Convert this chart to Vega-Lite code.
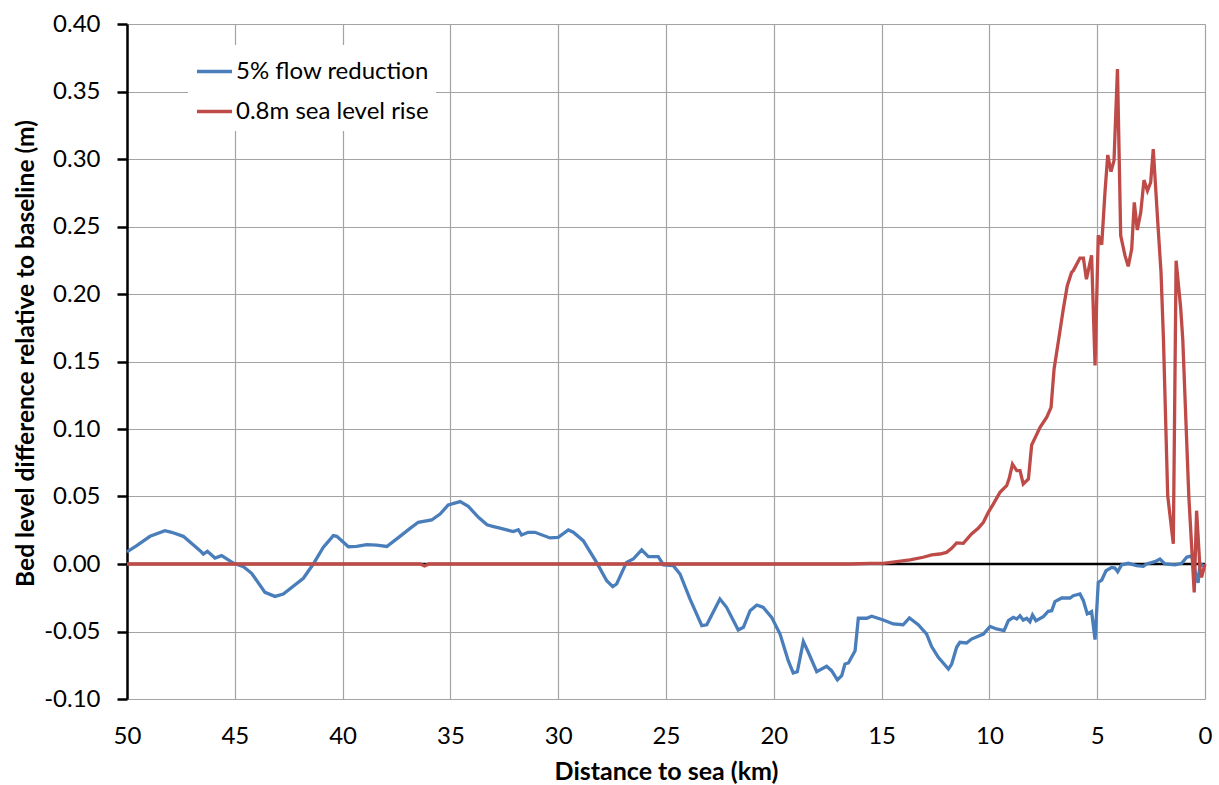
{
  "$schema": "https://vega.github.io/schema/vega-lite/v6.json",
  "width": 1078,
  "height": 675,
  "autosize": {"type": "none"},
  "padding": {"left": 127, "top": 24, "right": 14, "bottom": 86},
  "background": "white",
  "config": {
    "font": "Lato",
    "view": {"stroke": null},
    "axis": {"labelColor": "black", "titleColor": "black", "gridColor": "#a3a3a3", "gridWidth": 1.2}
  },
  "datasets": {
    "lines": [
      {"d": 50.0, "v": 0.009, "s": "5% flow reduction"},
      {"d": 49.55, "v": 0.0136, "s": "5% flow reduction"},
      {"d": 48.93, "v": 0.0205, "s": "5% flow reduction"},
      {"d": 48.24, "v": 0.0247, "s": "5% flow reduction"},
      {"d": 47.93, "v": 0.0235, "s": "5% flow reduction"},
      {"d": 47.39, "v": 0.0205, "s": "5% flow reduction"},
      {"d": 46.61, "v": 0.0099, "s": "5% flow reduction"},
      {"d": 46.46, "v": 0.0074, "s": "5% flow reduction"},
      {"d": 46.27, "v": 0.0094, "s": "5% flow reduction"},
      {"d": 45.92, "v": 0.0044, "s": "5% flow reduction"},
      {"d": 45.61, "v": 0.0062, "s": "5% flow reduction"},
      {"d": 45.07, "v": 0.0007, "s": "5% flow reduction"},
      {"d": 44.6, "v": -0.002, "s": "5% flow reduction"},
      {"d": 44.22, "v": -0.0069, "s": "5% flow reduction"},
      {"d": 43.6, "v": -0.021, "s": "5% flow reduction"},
      {"d": 43.14, "v": -0.024, "s": "5% flow reduction"},
      {"d": 42.75, "v": -0.0222, "s": "5% flow reduction"},
      {"d": 41.82, "v": -0.0106, "s": "5% flow reduction"},
      {"d": 41.36, "v": 0.0, "s": "5% flow reduction"},
      {"d": 40.9, "v": 0.0123, "s": "5% flow reduction"},
      {"d": 40.43, "v": 0.021, "s": "5% flow reduction"},
      {"d": 40.27, "v": 0.0205, "s": "5% flow reduction"},
      {"d": 39.73, "v": 0.0128, "s": "5% flow reduction"},
      {"d": 39.35, "v": 0.013, "s": "5% flow reduction"},
      {"d": 38.88, "v": 0.0143, "s": "5% flow reduction"},
      {"d": 38.42, "v": 0.014, "s": "5% flow reduction"},
      {"d": 37.95, "v": 0.013, "s": "5% flow reduction"},
      {"d": 37.34, "v": 0.0205, "s": "5% flow reduction"},
      {"d": 36.87, "v": 0.0264, "s": "5% flow reduction"},
      {"d": 36.49, "v": 0.0309, "s": "5% flow reduction"},
      {"d": 35.87, "v": 0.0326, "s": "5% flow reduction"},
      {"d": 35.48, "v": 0.037, "s": "5% flow reduction"},
      {"d": 35.1, "v": 0.0437, "s": "5% flow reduction"},
      {"d": 34.55, "v": 0.0462, "s": "5% flow reduction"},
      {"d": 34.17, "v": 0.0427, "s": "5% flow reduction"},
      {"d": 33.7, "v": 0.0346, "s": "5% flow reduction"},
      {"d": 33.3, "v": 0.029, "s": "5% flow reduction"},
      {"d": 33.0, "v": 0.0277, "s": "5% flow reduction"},
      {"d": 32.7, "v": 0.0265, "s": "5% flow reduction"},
      {"d": 32.08, "v": 0.024, "s": "5% flow reduction"},
      {"d": 31.85, "v": 0.0254, "s": "5% flow reduction"},
      {"d": 31.7, "v": 0.0215, "s": "5% flow reduction"},
      {"d": 31.39, "v": 0.0235, "s": "5% flow reduction"},
      {"d": 31.08, "v": 0.0235, "s": "5% flow reduction"},
      {"d": 30.38, "v": 0.0193, "s": "5% flow reduction"},
      {"d": 30.0, "v": 0.0198, "s": "5% flow reduction"},
      {"d": 29.53, "v": 0.0252, "s": "5% flow reduction"},
      {"d": 29.3, "v": 0.0235, "s": "5% flow reduction"},
      {"d": 28.84, "v": 0.0173, "s": "5% flow reduction"},
      {"d": 28.22, "v": 0.0012, "s": "5% flow reduction"},
      {"d": 27.75, "v": -0.0124, "s": "5% flow reduction"},
      {"d": 27.47, "v": -0.0168, "s": "5% flow reduction"},
      {"d": 27.29, "v": -0.0148, "s": "5% flow reduction"},
      {"d": 26.83, "v": 0.0012, "s": "5% flow reduction"},
      {"d": 26.52, "v": 0.0037, "s": "5% flow reduction"},
      {"d": 26.13, "v": 0.0104, "s": "5% flow reduction"},
      {"d": 25.82, "v": 0.0054, "s": "5% flow reduction"},
      {"d": 25.36, "v": 0.0054, "s": "5% flow reduction"},
      {"d": 25.12, "v": -0.0007, "s": "5% flow reduction"},
      {"d": 24.66, "v": -0.0012, "s": "5% flow reduction"},
      {"d": 24.35, "v": -0.0074, "s": "5% flow reduction"},
      {"d": 23.89, "v": -0.0259, "s": "5% flow reduction"},
      {"d": 23.34, "v": -0.0457, "s": "5% flow reduction"},
      {"d": 23.11, "v": -0.045, "s": "5% flow reduction"},
      {"d": 22.5, "v": -0.0259, "s": "5% flow reduction"},
      {"d": 22.19, "v": -0.0321, "s": "5% flow reduction"},
      {"d": 21.65, "v": -0.0489, "s": "5% flow reduction"},
      {"d": 21.41, "v": -0.0469, "s": "5% flow reduction"},
      {"d": 21.1, "v": -0.0346, "s": "5% flow reduction"},
      {"d": 20.79, "v": -0.0304, "s": "5% flow reduction"},
      {"d": 20.49, "v": -0.0321, "s": "5% flow reduction"},
      {"d": 20.1, "v": -0.0395, "s": "5% flow reduction"},
      {"d": 19.71, "v": -0.0519, "s": "5% flow reduction"},
      {"d": 19.33, "v": -0.0716, "s": "5% flow reduction"},
      {"d": 19.1, "v": -0.0807, "s": "5% flow reduction"},
      {"d": 18.91, "v": -0.0798, "s": "5% flow reduction"},
      {"d": 18.63, "v": -0.0575, "s": "5% flow reduction"},
      {"d": 18.4, "v": -0.0654, "s": "5% flow reduction"},
      {"d": 18.01, "v": -0.0798, "s": "5% flow reduction"},
      {"d": 17.55, "v": -0.0758, "s": "5% flow reduction"},
      {"d": 17.32, "v": -0.079, "s": "5% flow reduction"},
      {"d": 17.05, "v": -0.0859, "s": "5% flow reduction"},
      {"d": 16.85, "v": -0.0827, "s": "5% flow reduction"},
      {"d": 16.7, "v": -0.0741, "s": "5% flow reduction"},
      {"d": 16.54, "v": -0.0733, "s": "5% flow reduction"},
      {"d": 16.23, "v": -0.0642, "s": "5% flow reduction"},
      {"d": 16.08, "v": -0.0402, "s": "5% flow reduction"},
      {"d": 15.69, "v": -0.0402, "s": "5% flow reduction"},
      {"d": 15.46, "v": -0.0387, "s": "5% flow reduction"},
      {"d": 14.92, "v": -0.0415, "s": "5% flow reduction"},
      {"d": 14.46, "v": -0.0444, "s": "5% flow reduction"},
      {"d": 14.0, "v": -0.045, "s": "5% flow reduction"},
      {"d": 13.71, "v": -0.04, "s": "5% flow reduction"},
      {"d": 13.3, "v": -0.045, "s": "5% flow reduction"},
      {"d": 12.91, "v": -0.0519, "s": "5% flow reduction"},
      {"d": 12.68, "v": -0.0612, "s": "5% flow reduction"},
      {"d": 12.37, "v": -0.0691, "s": "5% flow reduction"},
      {"d": 11.9, "v": -0.0778, "s": "5% flow reduction"},
      {"d": 11.75, "v": -0.0741, "s": "5% flow reduction"},
      {"d": 11.52, "v": -0.0617, "s": "5% flow reduction"},
      {"d": 11.37, "v": -0.058, "s": "5% flow reduction"},
      {"d": 11.06, "v": -0.0585, "s": "5% flow reduction"},
      {"d": 10.83, "v": -0.0556, "s": "5% flow reduction"},
      {"d": 10.28, "v": -0.0519, "s": "5% flow reduction"},
      {"d": 9.97, "v": -0.0462, "s": "5% flow reduction"},
      {"d": 9.67, "v": -0.0481, "s": "5% flow reduction"},
      {"d": 9.32, "v": -0.0494, "s": "5% flow reduction"},
      {"d": 9.12, "v": -0.042, "s": "5% flow reduction"},
      {"d": 8.89, "v": -0.0395, "s": "5% flow reduction"},
      {"d": 8.73, "v": -0.0407, "s": "5% flow reduction"},
      {"d": 8.58, "v": -0.0383, "s": "5% flow reduction"},
      {"d": 8.43, "v": -0.0415, "s": "5% flow reduction"},
      {"d": 8.27, "v": -0.0402, "s": "5% flow reduction"},
      {"d": 8.12, "v": -0.0427, "s": "5% flow reduction"},
      {"d": 8.0, "v": -0.0378, "s": "5% flow reduction"},
      {"d": 7.84, "v": -0.042, "s": "5% flow reduction"},
      {"d": 7.5, "v": -0.039, "s": "5% flow reduction"},
      {"d": 7.27, "v": -0.035, "s": "5% flow reduction"},
      {"d": 7.11, "v": -0.0346, "s": "5% flow reduction"},
      {"d": 6.96, "v": -0.0279, "s": "5% flow reduction"},
      {"d": 6.65, "v": -0.0252, "s": "5% flow reduction"},
      {"d": 6.26, "v": -0.0252, "s": "5% flow reduction"},
      {"d": 6.11, "v": -0.0235, "s": "5% flow reduction"},
      {"d": 5.8, "v": -0.0222, "s": "5% flow reduction"},
      {"d": 5.64, "v": -0.0272, "s": "5% flow reduction"},
      {"d": 5.46, "v": -0.037, "s": "5% flow reduction"},
      {"d": 5.26, "v": -0.0353, "s": "5% flow reduction"},
      {"d": 5.1, "v": -0.056, "s": "5% flow reduction"},
      {"d": 4.95, "v": -0.0136, "s": "5% flow reduction"},
      {"d": 4.79, "v": -0.0119, "s": "5% flow reduction"},
      {"d": 4.59, "v": -0.005, "s": "5% flow reduction"},
      {"d": 4.33, "v": -0.0025, "s": "5% flow reduction"},
      {"d": 4.18, "v": -0.003, "s": "5% flow reduction"},
      {"d": 4.05, "v": -0.0057, "s": "5% flow reduction"},
      {"d": 3.87, "v": -0.0007, "s": "5% flow reduction"},
      {"d": 3.56, "v": 0.0005, "s": "5% flow reduction"},
      {"d": 3.17, "v": -0.0012, "s": "5% flow reduction"},
      {"d": 2.86, "v": -0.0017, "s": "5% flow reduction"},
      {"d": 2.71, "v": 0.0, "s": "5% flow reduction"},
      {"d": 2.32, "v": 0.0017, "s": "5% flow reduction"},
      {"d": 2.09, "v": 0.0037, "s": "5% flow reduction"},
      {"d": 1.86, "v": 0.0, "s": "5% flow reduction"},
      {"d": 1.39, "v": -0.0007, "s": "5% flow reduction"},
      {"d": 1.08, "v": 0.0005, "s": "5% flow reduction"},
      {"d": 0.85, "v": 0.005, "s": "5% flow reduction"},
      {"d": 0.7, "v": 0.0057, "s": "5% flow reduction"},
      {"d": 0.6, "v": 0.005, "s": "5% flow reduction"},
      {"d": 0.45, "v": -0.006, "s": "5% flow reduction"},
      {"d": 0.32, "v": -0.014, "s": "5% flow reduction"},
      {"d": 0.23, "v": 0.0, "s": "5% flow reduction"},
      {"d": 0.0, "v": -0.002, "s": "5% flow reduction"},
      {"d": 50.0, "v": 0.0, "s": "0.8m sea level rise"},
      {"d": 36.4, "v": 0.0, "s": "0.8m sea level rise"},
      {"d": 36.2, "v": -0.0015, "s": "0.8m sea level rise"},
      {"d": 36.0, "v": 0.0, "s": "0.8m sea level rise"},
      {"d": 16.47, "v": 0.0, "s": "0.8m sea level rise"},
      {"d": 15.54, "v": 0.0005, "s": "0.8m sea level rise"},
      {"d": 14.92, "v": 0.0005, "s": "0.8m sea level rise"},
      {"d": 14.3, "v": 0.0017, "s": "0.8m sea level rise"},
      {"d": 13.68, "v": 0.003, "s": "0.8m sea level rise"},
      {"d": 13.07, "v": 0.005, "s": "0.8m sea level rise"},
      {"d": 12.68, "v": 0.0067, "s": "0.8m sea level rise"},
      {"d": 12.3, "v": 0.0074, "s": "0.8m sea level rise"},
      {"d": 11.99, "v": 0.0086, "s": "0.8m sea level rise"},
      {"d": 11.75, "v": 0.0116, "s": "0.8m sea level rise"},
      {"d": 11.52, "v": 0.0156, "s": "0.8m sea level rise"},
      {"d": 11.21, "v": 0.0153, "s": "0.8m sea level rise"},
      {"d": 10.83, "v": 0.0222, "s": "0.8m sea level rise"},
      {"d": 10.52, "v": 0.0264, "s": "0.8m sea level rise"},
      {"d": 10.28, "v": 0.0309, "s": "0.8m sea level rise"},
      {"d": 10.05, "v": 0.0383, "s": "0.8m sea level rise"},
      {"d": 9.82, "v": 0.0444, "s": "0.8m sea level rise"},
      {"d": 9.51, "v": 0.0531, "s": "0.8m sea level rise"},
      {"d": 9.2, "v": 0.058, "s": "0.8m sea level rise"},
      {"d": 9.08, "v": 0.0635, "s": "0.8m sea level rise"},
      {"d": 8.93, "v": 0.074, "s": "0.8m sea level rise"},
      {"d": 8.73, "v": 0.0691, "s": "0.8m sea level rise"},
      {"d": 8.58, "v": 0.0691, "s": "0.8m sea level rise"},
      {"d": 8.43, "v": 0.0593, "s": "0.8m sea level rise"},
      {"d": 8.19, "v": 0.063, "s": "0.8m sea level rise"},
      {"d": 8.04, "v": 0.0881, "s": "0.8m sea level rise"},
      {"d": 7.65, "v": 0.1012, "s": "0.8m sea level rise"},
      {"d": 7.34, "v": 0.1087, "s": "0.8m sea level rise"},
      {"d": 7.14, "v": 0.116, "s": "0.8m sea level rise"},
      {"d": 7.0, "v": 0.1444, "s": "0.8m sea level rise"},
      {"d": 6.8, "v": 0.165, "s": "0.8m sea level rise"},
      {"d": 6.57, "v": 0.189, "s": "0.8m sea level rise"},
      {"d": 6.39, "v": 0.206, "s": "0.8m sea level rise"},
      {"d": 6.19, "v": 0.216, "s": "0.8m sea level rise"},
      {"d": 6.11, "v": 0.2173, "s": "0.8m sea level rise"},
      {"d": 5.8, "v": 0.2266, "s": "0.8m sea level rise"},
      {"d": 5.64, "v": 0.2266, "s": "0.8m sea level rise"},
      {"d": 5.5, "v": 0.211, "s": "0.8m sea level rise"},
      {"d": 5.26, "v": 0.2286, "s": "0.8m sea level rise"},
      {"d": 5.1, "v": 0.147, "s": "0.8m sea level rise"},
      {"d": 4.95, "v": 0.2435, "s": "0.8m sea level rise"},
      {"d": 4.79, "v": 0.2365, "s": "0.8m sea level rise"},
      {"d": 4.64, "v": 0.2753, "s": "0.8m sea level rise"},
      {"d": 4.51, "v": 0.303, "s": "0.8m sea level rise"},
      {"d": 4.36, "v": 0.2906, "s": "0.8m sea level rise"},
      {"d": 4.22, "v": 0.2988, "s": "0.8m sea level rise"},
      {"d": 4.06, "v": 0.3667, "s": "0.8m sea level rise"},
      {"d": 3.91, "v": 0.2432, "s": "0.8m sea level rise"},
      {"d": 3.71, "v": 0.2284, "s": "0.8m sea level rise"},
      {"d": 3.56, "v": 0.2205, "s": "0.8m sea level rise"},
      {"d": 3.4, "v": 0.2333, "s": "0.8m sea level rise"},
      {"d": 3.28, "v": 0.2679, "s": "0.8m sea level rise"},
      {"d": 3.14, "v": 0.2474, "s": "0.8m sea level rise"},
      {"d": 2.98, "v": 0.2605, "s": "0.8m sea level rise"},
      {"d": 2.83, "v": 0.2844, "s": "0.8m sea level rise"},
      {"d": 2.67, "v": 0.2765, "s": "0.8m sea level rise"},
      {"d": 2.52, "v": 0.2827, "s": "0.8m sea level rise"},
      {"d": 2.4, "v": 0.3074, "s": "0.8m sea level rise"},
      {"d": 2.19, "v": 0.253, "s": "0.8m sea level rise"},
      {"d": 2.04, "v": 0.216, "s": "0.8m sea level rise"},
      {"d": 1.93, "v": 0.168, "s": "0.8m sea level rise"},
      {"d": 1.73, "v": 0.0506, "s": "0.8m sea level rise"},
      {"d": 1.47, "v": 0.015, "s": "0.8m sea level rise"},
      {"d": 1.34, "v": 0.2247, "s": "0.8m sea level rise"},
      {"d": 1.13, "v": 0.19, "s": "0.8m sea level rise"},
      {"d": 1.03, "v": 0.166, "s": "0.8m sea level rise"},
      {"d": 0.75, "v": 0.05, "s": "0.8m sea level rise"},
      {"d": 0.5, "v": -0.021, "s": "0.8m sea level rise"},
      {"d": 0.39, "v": 0.0395, "s": "0.8m sea level rise"},
      {"d": 0.23, "v": -0.004, "s": "0.8m sea level rise"},
      {"d": 0.16, "v": -0.0099, "s": "0.8m sea level rise"},
      {"d": 0.0, "v": 0.0, "s": "0.8m sea level rise"}
    ]
  },
  "encoding": {
    "x": {
      "field": "d", "type": "quantitative",
      "scale": {"domain": [0, 50], "reverse": true, "nice": false, "zero": false},
      "axis": {
        "values": [0, 5, 10, 15, 20, 25, 30, 35, 40, 45, 50],
        "title": "Distance to sea (km)",
        "domain": false, "ticks": false, "grid": true,
        "labelFontSize": 24, "labelPadding": 25, "labelFlush": false,
        "titleFontSize": 25, "titleFontWeight": "bold", "titlePadding": 11
      }
    },
    "y": {
      "field": "v", "type": "quantitative",
      "scale": {"domain": [-0.1, 0.4], "nice": false, "zero": false},
      "axis": {
        "values": [-0.1, -0.05, 0, 0.05, 0.1, 0.15, 0.2, 0.25, 0.3, 0.35, 0.4],
        "labelExpr": "datum.value < 0 ? '-' + format(-datum.value, '.2f') : format(datum.value, '.2f')",
        "title": "Bed level difference relative to baseline (m)",
        "domain": true, "domainColor": "black", "domainWidth": 2.5,
        "ticks": true, "tickColor": "black", "tickWidth": 2.5, "tickSize": 10,
        "grid": true, "labelFontSize": 24, "labelPadding": 17,
        "titleFontSize": 24.5, "titleFontWeight": "bold",
        "titleX": -101, "titleY": 329, "titleAlign": "center", "titleBaseline": "middle", "titleAngle": -90
      }
    }
  },
  "layer": [
    {
      "data": {"values": [{"z": 0}]},
      "mark": {"type": "rule", "color": "black", "strokeWidth": 2.5},
      "encoding": {"y": {"field": "z", "type": "quantitative"}, "x": null}
    },
    {
      "data": {"name": "lines"},
      "transform": [{"filter": "datum.s === '5% flow reduction'"}],
      "mark": {"type": "line", "strokeWidth": 3.3, "interpolate": "linear"},
      "encoding": {
        "color": {
          "field": "s", "type": "nominal",
          "scale": {"domain": ["5% flow reduction", "0.8m sea level rise"], "range": ["#4a7ebb", "#be4b48"]},
          "legend": {
            "title": null, "orient": "none", "legendX": 61, "legendY": 21,
            "fillColor": "white", "padding": 7,
            "symbolType": "stroke", "symbolSize": 1225, "symbolStrokeWidth": 3.3,
            "labelFontSize": 24, "labelColor": "black", "labelOffset": 2, "rowPadding": 8, "labelLimit": 0
          }
        }
      }
    },
    {
      "data": {"name": "lines"},
      "transform": [{"filter": "datum.s === '0.8m sea level rise'"}],
      "mark": {"type": "line", "strokeWidth": 3.3, "interpolate": "linear"},
      "encoding": {
        "color": {"field": "s", "type": "nominal"}
      }
    }
  ]
}
